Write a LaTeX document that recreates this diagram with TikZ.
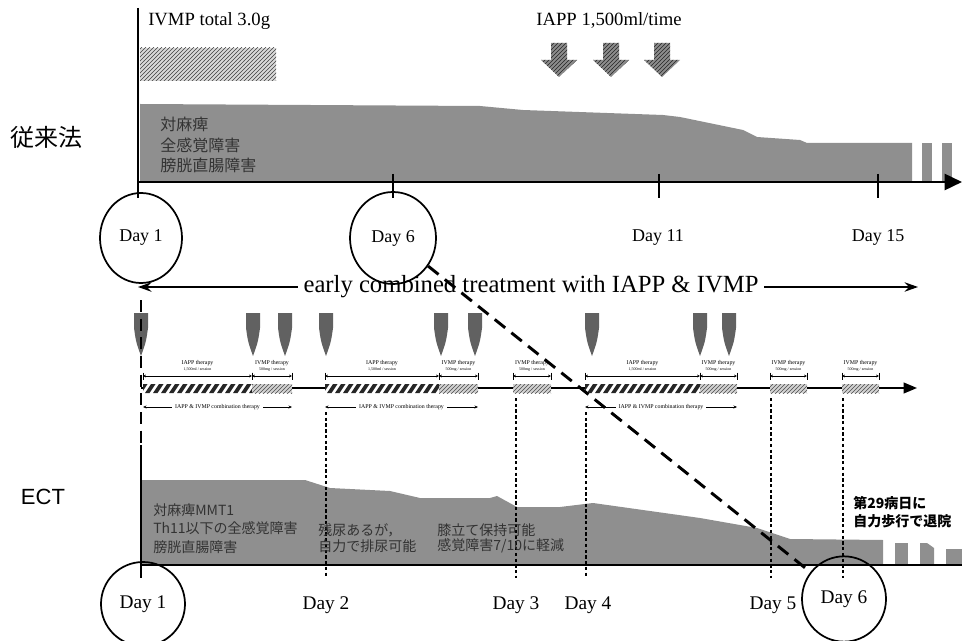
\documentclass[tikz,border=0pt]{standalone}
\usepackage{fontspec}
\setmainfont{Liberation Serif}
\setsansfont{Liberation Sans}
\newfontfamily\jpfont{Noto Sans CJK JP}
\usetikzlibrary{patterns,arrows.meta,shapes.geometric}
\definecolor{areagray}{gray}{0.56}
\definecolor{areatext}{gray}{0.2}
\definecolor{markgray}{gray}{0.38}
\tikzset{
 axisline/.style={line width=1.9pt},
 dayc/.style={draw, ellipse, line width=1.3pt, inner sep=0pt},
 daytop/.style={font=\fontsize{13.5}{14}\selectfont},
 daybot/.style={font=\fontsize{14.5}{15}\selectfont},
 areatxt/.style={anchor=west, text=areatext, font=\jpfont\fontsize{12}{12}\selectfont, inner sep=0pt},
 ecttxt/.style={anchor=west, text=areatext, font=\jpfont\fontsize{10.5}{11}\selectfont, inner sep=0pt},
 area/.style={fill=areagray},
 marker/.style={fill=markgray},
 hatchbar/.style={preaction={fill=gray!30}, pattern=north east lines, pattern color=black!75},
 arrowhatch/.style={preaction={fill=black!45}, pattern=north east lines, pattern color=black!85},
 ivmphatch/.style={preaction={fill=gray!35}, pattern=north east lines, pattern color=black!70},
 vdot/.style={line width=0.8pt, dash pattern=on 2.5pt off 1.8pt},
 dimline/.style={line width=0.35pt, {Stealth[length=2.2pt,width=2pt]}-{Stealth[length=2.2pt,width=2pt]}},
 combline/.style={line width=0.45pt, {Stealth[length=2.6pt,width=2.2pt]}-{Stealth[length=2.6pt,width=2.2pt]}},
 tinylab/.style={font=\fontsize{4.4}{5}\selectfont, inner sep=0.5pt},
 tinysub/.style={font=\fontsize{3}{3.5}\selectfont, inner sep=0.3pt},
}
\newcommand\iappbar[2]{%
 \fill[white] (#1,384) rectangle (#2,393);
 \begin{scope}
 \clip (#1,384) rectangle (#2,393);
 \foreach \k in {0,8,...,128} \fill[black!85] ({#1+\k-6},393) -- ({#1+\k},384) -- ({#1+\k+4.5},384) -- ({#1+\k-1.5},393) -- cycle;
 \end{scope}}
\newcommand\ivmpbar[2]{\path[ivmphatch] (#1,384) rectangle (#2,393);}
\newcommand\dimseg[4]{%
 \coordinate (da) at (#1,376); \coordinate (db) at (#2,376);
 \draw[dimline] (da) -- (db);
 \draw[line width=0.5pt] (#1,372.5) -- (#1,379.5) (#2,372.5) -- (#2,379.5);
 \node[tinylab] at ({(#1+#2)/2},363) {#3};
 \node[tinysub] at ({(#1+#2)/2},369.5) {#4};}
\newcommand\combseg[2]{%
 \coordinate (ca) at (#1,407); \coordinate (cb) at (#2,407);
 \draw[combline] (ca) -- (cb);
 \node[tinylab, fill=white, inner xsep=2pt] at ({(#1+#2)/2},407) {IAPP \& IVMP combination therapy};}

\begin{document}
\begin{tikzpicture}[x=0.75pt,y=-0.75pt]
\useasboundingbox (0,0) rectangle (962,641);

% ---------- top (conventional) ----------
\node[font=\jpfont\fontsize{18}{18}\selectfont, inner sep=0pt] (jurai) at (46,137) {従来法};
\node[anchor=west, font=\fontsize{14}{15}\selectfont, inner sep=0pt] (ivmptot) at (148,21) {IVMP total 3.0g};
\node[font=\fontsize{14}{15}\selectfont, inner sep=0pt] (iapptop) at (609,20) {IAPP 1,500ml/time};

\path[hatchbar] (140,48) rectangle (276,81);
\foreach \c in {559,611,662}
  \path[arrowhatch] (\c-8,43) -- (\c+8,43) -- (\c+8,60) -- (\c+18,60) -- (\c,77) -- (\c-18,60) -- (\c-8,60) -- cycle;

\fill[area] (140,104) -- (480,106) -- (523,110) -- (663,115) -- (680,117) -- (743,130) -- (757,137) -- (800,140) -- (807,143) -- (912,143) -- (912,182) -- (140,182) -- cycle;
\fill[area] (922,143) rectangle (932,182);
\fill[area] (942,143) rectangle (952,182);

\node[areatxt] (ta1) at (160,124) {対麻痺};
\node[areatxt] (ta2) at (160,145) {全感覚障害};
\node[areatxt] (ta3) at (160,165) {膀胱直腸障害};

\coordinate (vt) at (138,8); \coordinate (vb) at (138,198);
\draw[axisline] (vt) -- (vb);
\coordinate (ax0) at (138,182); \coordinate (ax1) at (962,182);
\draw[axisline, -{Triangle[length=13pt,width=12pt]}] (ax0) -- (ax1);
\foreach \x in {393,659,878} \draw[line width=1.3pt] (\x,174) -- (\x,198);

\node[dayc, minimum width=61.5pt, minimum height=67.5pt, daytop] (d1top) at (141,238) {Day 1};
\node[dayc, minimum width=64.5pt, minimum height=69pt, daytop] (d6top) at (393,238) {Day 6};
\node[daytop] (d11top) at (658,238) {Day 11};
\node[daytop] (d15top) at (878,238) {Day 15};

% ---------- early combined arrow ----------
\node[font=\fontsize{18.5}{19}\selectfont, inner sep=4pt] (early) at (531,287) {early combined treatment with IAPP \& IVMP};
\coordinate (eL) at (138,287); \coordinate (eR) at (918,287);
\draw[line width=1.5pt, -{Stealth[length=10pt,width=7pt]}] (early.west) -- (eL);
\draw[line width=1.5pt, -{Stealth[length=10pt,width=7pt]}] (early.east) -- (eR);

% ---------- ECT ----------
\node[font=\sffamily\fontsize{16.5}{17}\selectfont, inner sep=0pt] (ectl) at (43,497) {ECT};

\fill[area] (142,480) -- (305,480) -- (330,488) -- (390,491) -- (420,498) -- (490,498) -- (497,496) -- (517,507) -- (560,507) -- (593,503) -- (700,518) -- (757,528) -- (790,539) -- (883,540) -- (883,565) -- (142,565) -- cycle;
\fill[area] (895,543) rectangle (908,565);
\fill[area] (920,543) -- (927,543) -- (934,548) -- (934,565) -- (920,565) -- cycle;
\fill[area] (946,549) rectangle (962,565);

\foreach \x in {141,253,285,326,441,475,592,700,729}
  \fill[marker] (\x-7,313) -- (\x+7,313) -- (\x+7,328) .. controls (\x+5,342) .. (\x,356) .. controls (\x-5,342) .. (\x-7,328) -- cycle;

\coordinate (e1a) at (141,300); \coordinate (e1b) at (141,445); \coordinate (e1c) at (141,578);
\draw[line width=1.9pt, dash pattern=on 9pt off 5pt] (e1a) -- (e1b);
\draw[axisline] (e1b) -- (e1c);

\foreach \x/\t in {326/412,516/398,586/412,771/398,843/398} \draw[vdot] (\x,\t) -- (\x,578);

\coordinate (tl0) at (141,388); \coordinate (tl1) at (917,388);
\draw[line width=1.5pt, -{Triangle[length=10pt,width=8pt]}] (tl0) -- (tl1);

\iappbar{143}{252} \iappbar{325}{439} \iappbar{585}{700}
\ivmpbar{252}{292} \ivmpbar{439}{478} \ivmpbar{513}{551}
\ivmpbar{700}{737} \ivmpbar{770}{807} \ivmpbar{842}{879}

\dimseg{143}{252}{IAPP therapy}{1,500ml / session}
\dimseg{252}{292}{IVMP therapy}{500mg / session}
\dimseg{325}{439}{IAPP therapy}{1,500ml / session}
\dimseg{439}{478}{IVMP therapy}{500mg / session}
\dimseg{513}{551}{IVMP therapy}{500mg / session}
\dimseg{585}{700}{IAPP therapy}{1,500ml / session}
\dimseg{700}{737}{IVMP therapy}{500mg / session}
\dimseg{770}{807}{IVMP therapy}{500mg / session}
\dimseg{842}{879}{IVMP therapy}{500mg / session}

\combseg{143}{292} \combseg{325}{478} \combseg{585}{737}

\coordinate (ea0) at (141,565); \coordinate (ea1) at (962,565);
\draw[axisline] (ea0) -- (ea1);

\node[ecttxt] (c1) at (153,510) {対麻痺MMT1};
\node[ecttxt] (c2) at (153,528) {Th11以下の全感覚障害};
\node[ecttxt] (c3) at (153,547) {膀胱直腸障害};
\node[ecttxt] (c4) at (318,530) {残尿あるが，};
\node[ecttxt] (c5) at (318,546) {自力で排尿可能};
\node[ecttxt] (c6) at (437,530) {膝立て保持可能};
\node[ecttxt] (c7) at (437,546) {感覚障害7/10に軽減};
\node[anchor=west, inner sep=0pt, font=\jpfont\bfseries\fontsize{10.5}{11}\selectfont] (c8) at (853,503) {第29病日に};
\node[anchor=west, inner sep=0pt, font=\jpfont\bfseries\fontsize{10.5}{11}\selectfont] (c9) at (853,521) {自力歩行で退院};

\node[dayc, minimum width=63pt, minimum height=63pt, daybot] (d1bot) at (143,604) {Day 1};
\node[daybot] (d2) at (326,605) {Day 2};
\node[daybot] (d3) at (516,605) {Day 3};
\node[daybot] (d4) at (588,605) {Day 4};
\node[daybot] (d5) at (773,605) {Day 5};
\node[dayc, minimum width=63pt, minimum height=64pt, daybot] (d6bot) at (844,599) {Day 6};

\draw[line width=2.2pt, dash pattern=on 10pt off 6pt] (d6top) -- (d6bot);
\end{tikzpicture}
\end{document}
